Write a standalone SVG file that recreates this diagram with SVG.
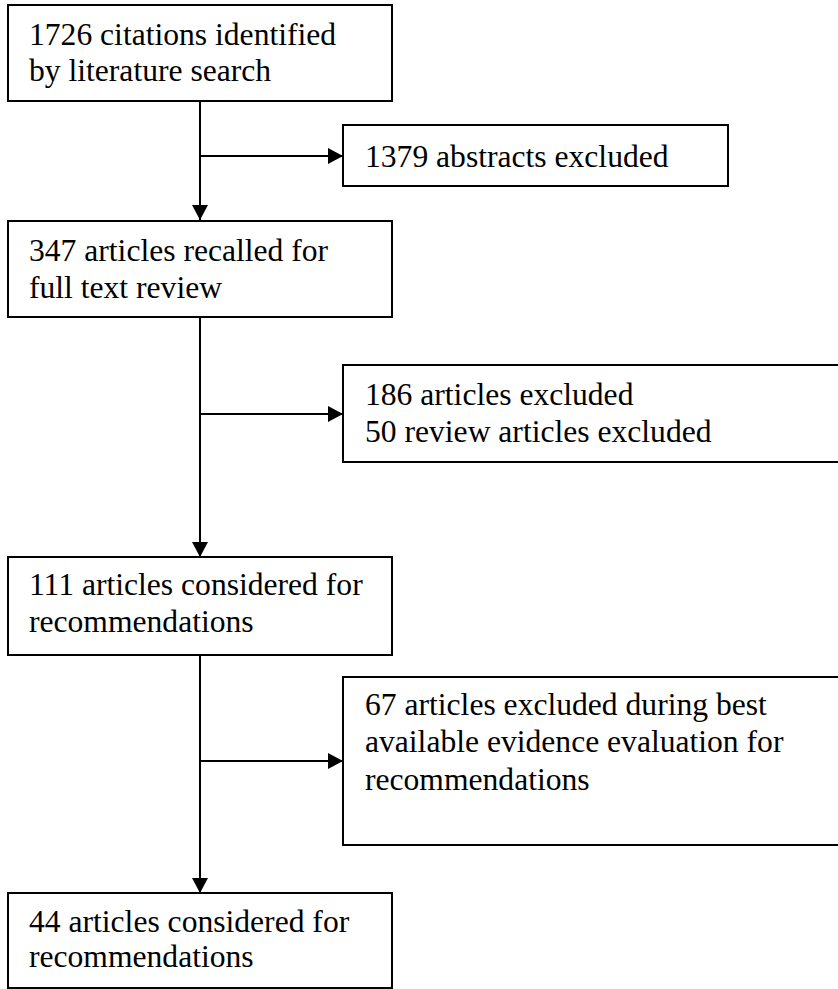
<svg xmlns="http://www.w3.org/2000/svg" width="838" height="989" viewBox="0 0 838 989">
<style>
.box{fill:#fff;stroke:#000;stroke-width:2}
.t{font-family:"Liberation Serif","Times New Roman",serif;font-size:31.6px;fill:#000}
.c{stroke:#000;stroke-width:2;fill:none}
</style>
<defs>
<marker id="ah" markerWidth="15" markerHeight="16" refX="15" refY="8" orient="auto" markerUnits="userSpaceOnUse">
<path d="M0,0 L15,8 L0,16 Z" fill="#000"/>
</marker>
</defs>
<rect width="838" height="989" fill="#fff"/>
<g id="connectors">
<line class="c" x1="200" y1="101" x2="200" y2="220" marker-end="url(#ah)"/>
<line class="c" x1="200" y1="156" x2="343" y2="156" marker-end="url(#ah)"/>
<line class="c" x1="200" y1="317" x2="200" y2="557" marker-end="url(#ah)"/>
<line class="c" x1="200" y1="414" x2="343" y2="414" marker-end="url(#ah)"/>
<line class="c" x1="200" y1="655" x2="200" y2="893" marker-end="url(#ah)"/>
<line class="c" x1="200" y1="761" x2="343" y2="761" marker-end="url(#ah)"/>
</g>
<g id="n1">
<rect class="box" x="8" y="5" width="384" height="96"/>
<text class="t" x="29" y="45">1726 citations identified</text>
<text class="t" x="29" y="81">by literature search</text>
</g>
<g id="n2">
<rect class="box" x="343" y="125" width="385" height="61"/>
<text class="t" x="365" y="167">1379 abstracts excluded</text>
</g>
<g id="n3">
<rect class="box" x="8" y="221" width="384" height="96"/>
<text class="t" x="29" y="261">347 articles recalled for</text>
<text class="t" x="29" y="298">full text review</text>
</g>
<g id="n4">
<rect class="box" x="343" y="365" width="500" height="97"/>
<text class="t" x="365" y="405">186 articles excluded</text>
<text class="t" x="365" y="442">50 review articles excluded</text>
</g>
<g id="n5">
<rect class="box" x="8" y="557" width="384" height="98"/>
<text class="t" x="29" y="595">111 articles considered for</text>
<text class="t" x="29" y="632">recommendations</text>
</g>
<g id="n6">
<rect class="box" x="343" y="677" width="500" height="168"/>
<text class="t" x="365" y="715">67 articles excluded during best</text>
<text class="t" x="365" y="752">available evidence evaluation for</text>
<text class="t" x="365" y="790">recommendations</text>
</g>
<g id="n7">
<rect class="box" x="8" y="893" width="384" height="95"/>
<text class="t" x="29" y="932">44 articles considered for</text>
<text class="t" x="29" y="967">recommendations</text>
</g>
</svg>
